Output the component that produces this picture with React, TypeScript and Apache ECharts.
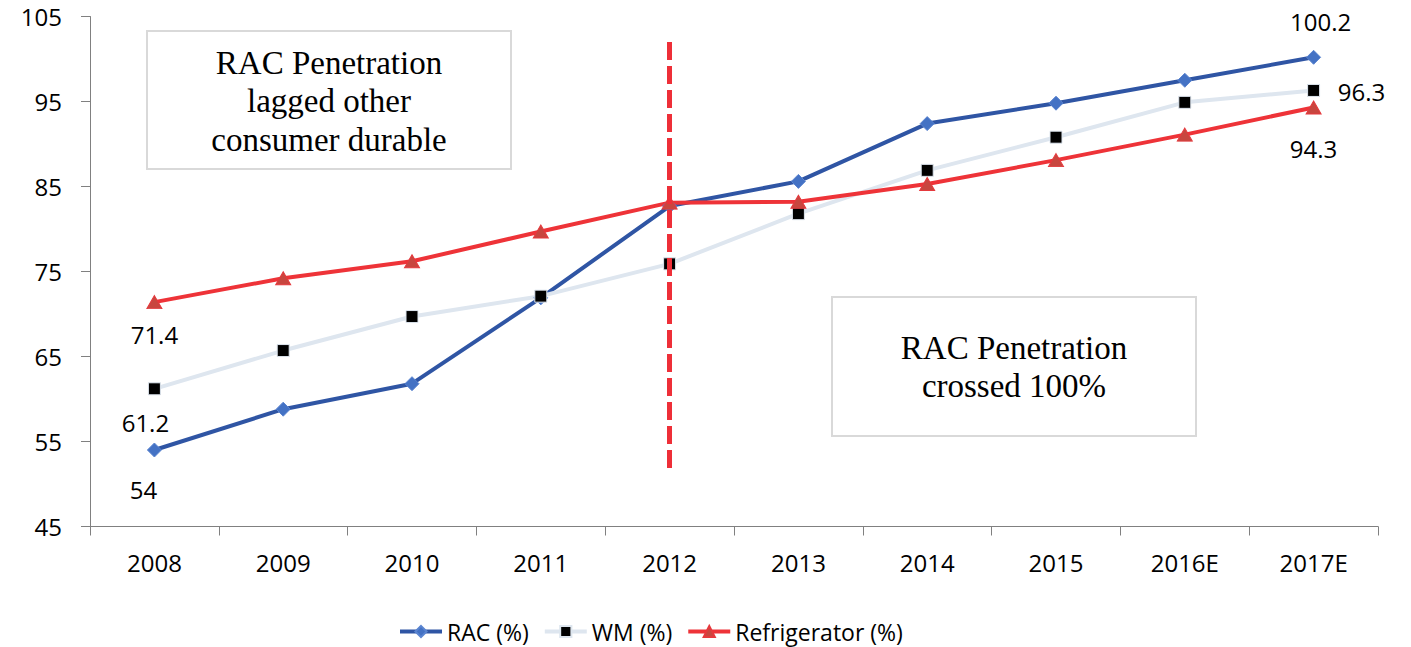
import React, { useEffect, useRef } from "react";
import * as echarts from "echarts";

const categories = ["2008", "2009", "2010", "2011", "2012", "2013", "2014", "2015", "2016E", "2017E"];
const racValues = [54, 58.8, 61.8, 71.9, 82.7, 85.6, 92.4, 94.8, 97.5, 100.2];
const wmValues = [61.2, 65.7, 69.7, 72.1, 75.9, 81.8, 86.9, 90.8, 94.9, 96.3];
const refValues = [71.4, 74.2, 76.2, 79.7, 83.1, 83.2, 85.3, 88.1, 91.1, 94.3];
const seriesNames = ["RAC (%)", "WM (%)", "Refrigerator (%)"];
const yMin = 45;
const yMax = 105;
const yInterval = 10;
const dividerCategory = "2012";
const dividerRange = [102, 51.3];
const noteLeft = "RAC Penetration\nlagged other\nconsumer durable";
const noteRight = "RAC Penetration\ncrossed 100%";

const FONT = '"Open Sans", "Noto Sans", sans-serif';
const SERIF = '"Liberation Serif", "DejaVu Serif", serif';

type LabelSpec = { index: number; offset: [number, number] };

function buildData(values: number[], specs: LabelSpec[]) {
  return values.map((v, i) => {
    const s = specs.find((x) => x.index === i);
    if (!s) return { value: v };
    return {
      value: v,
      label: {
        show: true,
        position: "inside",
        offset: s.offset,
        formatter: "{c}",
        color: "#000",
        fontFamily: FONT,
        fontSize: 24,
      },
    };
  });
}

export default function App() {
  const ref = useRef<HTMLDivElement>(null);
  useEffect(() => {
    if (!ref.current) return;
    const chart = echarts.init(ref.current, undefined, { renderer: "svg" });
    const last = categories.length - 1;
    const option: any = {
      animation: false,
      backgroundColor: "#ffffff",
      grid: { left: 90, right: 33, top: 16.5, bottom: 120.5, containLabel: false },
      legend: {
        data: seriesNames,
        left: 393,
        top: 615,
        itemWidth: 42,
        itemHeight: 14,
        itemGap: 14,
        lineStyle: { width: 4 },
        textStyle: { fontFamily: FONT, fontSize: 23, color: "#000" },
      },
      xAxis: {
        type: "category",
        data: categories,
        boundaryGap: true,
        axisLine: { show: true, lineStyle: { color: "#808080", width: 1 } },
        axisTick: { show: true, length: 9, lineStyle: { color: "#808080" } },
        axisLabel: { color: "#000", fontFamily: FONT, fontSize: 24, margin: 24 },
        splitLine: { show: false },
      },
      yAxis: {
        type: "value",
        min: yMin,
        max: yMax,
        interval: yInterval,
        axisLine: { show: true, lineStyle: { color: "#808080", width: 1 } },
        axisTick: { show: true, length: 9, lineStyle: { color: "#808080" } },
        axisLabel: { color: "#000", fontFamily: FONT, fontSize: 24, margin: 28 },
        splitLine: { show: false },
      },
      series: [
        {
          name: seriesNames[0],
          type: "line",
          data: buildData(racValues, [
            { index: 0, offset: [-11, 39] },
            { index: last, offset: [7, -36] },
          ]),
          symbol: "diamond",
          symbolSize: 14,
          lineStyle: { color: "#2F55A4", width: 4 },
          itemStyle: { color: "#4472C4", borderColor: "#5A84D0", borderWidth: 1 },
          emphasis: { disabled: true },
        },
        {
          name: seriesNames[1],
          type: "line",
          data: buildData(wmValues, [
            { index: 0, offset: [-9, 34] },
            { index: last, offset: [48, 1] },
          ]),
          symbol: "rect",
          symbolSize: 12,
          lineStyle: { color: "#DEE6EF", width: 4 },
          itemStyle: { color: "#000000", borderColor: "#DEE6EF", borderWidth: 1 },
          emphasis: { disabled: true },
        },
        {
          name: seriesNames[2],
          type: "line",
          data: buildData(refValues, [
            { index: 0, offset: [0, 32] },
            { index: last, offset: [0, 41] },
          ]),
          symbol: "triangle",
          symbolSize: [15, 13],
          lineStyle: { color: "#EE3338", width: 4 },
          itemStyle: { color: "#C8463F", borderColor: "#E5393D", borderWidth: 1 },
          emphasis: { disabled: true },
          markLine: {
            silent: true,
            symbol: ["none", "none"],
            label: { show: false },
            lineStyle: { color: "#EE2F38", width: 5, type: [18, 6] },
            data: [
              [
                { coord: [dividerCategory, dividerRange[0]] },
                { coord: [dividerCategory, dividerRange[1]] },
              ],
            ],
          },
        },
      ],
      graphic: [
        {
          type: "rect",
          shape: { x: 147, y: 31, width: 364, height: 138 },
          style: { fill: "#ffffff", stroke: "#D9D9D9", lineWidth: 2 },
          z: 10,
        },
        {
          type: "text",
          x: 329,
          y: 101,
          z: 11,
          style: {
            text: noteLeft,
            fontFamily: SERIF,
            fontSize: 33,
            fill: "#000",
            align: "center",
            verticalAlign: "middle",
            lineHeight: 38.5,
          },
        },
        {
          type: "rect",
          shape: { x: 832, y: 297, width: 364, height: 139 },
          style: { fill: "#ffffff", stroke: "#D9D9D9", lineWidth: 2 },
          z: 10,
        },
        {
          type: "text",
          x: 1014,
          y: 367,
          z: 11,
          style: {
            text: noteRight,
            fontFamily: SERIF,
            fontSize: 33,
            fill: "#000",
            align: "center",
            verticalAlign: "middle",
            lineHeight: 38.5,
          },
        },
      ],
    };
    chart.setOption(option);
    return () => chart.dispose();
  }, []);
  return (
    <div
      ref={ref}
      style={{ position: "fixed", left: 0, top: 0, width: 1411, height: 647, background: "#fff" }}
    />
  );
}
